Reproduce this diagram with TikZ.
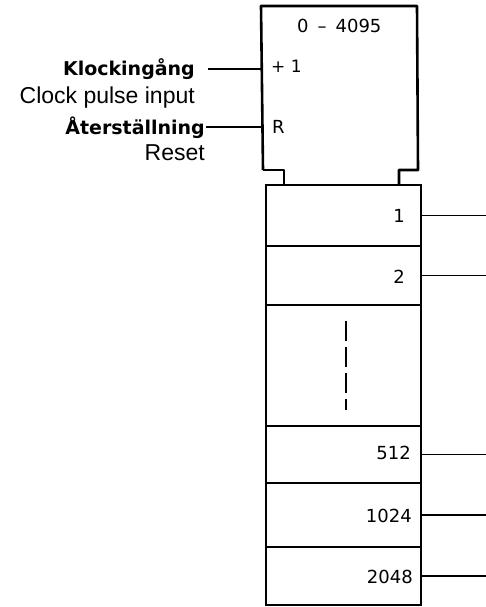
\documentclass[tikz,border=0pt]{standalone}
\usepackage{fontspec}
\setmainfont{Liberation Sans}
\newfontfamily\dinfont{DejaVu Sans}
\begin{document}
\begin{tikzpicture}[x=1pt,y=-1pt,
  thick box/.style={line width=2.6pt, line join=round},
  row/.style={draw, line width=2.6pt, minimum width=155pt, inner sep=0pt, outer sep=0pt},
  outline/.style={line width=1.6pt},
  num/.style={font=\dinfont\fontsize{18}{20}\selectfont, anchor=base east, inner sep=0pt},
  swe/.style={font=\dinfont\bfseries\fontsize{19}{22}\selectfont, anchor=base east, inner sep=0pt},
  eng/.style={font=\fontsize{23}{26}\selectfont, anchor=base east, inner sep=0pt}]
\useasboundingbox (0,0) rectangle (486,607);
% counter head
\node[minimum width=156pt, minimum height=164pt, inner sep=0pt, outer sep=0pt] (ctr) at (339,88) {};
\draw[thick box] (263,170) -- (ctr.north west) -- (ctr.north east) -- (418,170) -- (399,170) -- (399,185);
\draw[thick box] (263,170) -- (284,170) -- (284,185);
\node[num, anchor=base west] (range) at (297,33) {0\hspace{9pt}–\hspace{9pt}4095};
\node[num, anchor=base west, font=\dinfont\fontsize{17}{18}\selectfont] (plus) at (271,73) {+ 1};
\node[num, anchor=base west] (rin) at (272,133) {R};
% stack
\node[row, minimum height=61pt] (r1) at (343.5,215.5) {};
\node[row, minimum height=59pt] (r2) at (343.5,275.5) {};
\node[row, minimum height=121pt] (r3) at (343.5,365.5) {};
\node[row, minimum height=57pt] (r4) at (343.5,454.5) {};
\node[row, minimum height=64pt] (r5) at (343.5,515) {};
\node[row, minimum height=58pt] (r6) at (343.5,576) {};
\node[num] (l1) at (405,222) {1};
\node[num] (l2) at (405,283) {2};
\node[num] (l4) at (411,459) {512};
\node[num] (l5) at (412,522) {1024};
\node[num] (l6) at (413,583) {2048};
\draw[line width=1.5pt, dash pattern=on 20pt off 6pt] (346,321) -- (346,410);
% outputs
\foreach \r in {r1,r2,r4,r5,r6}{
  \coordinate (o\r) at (486,0 |- \r.east);
  \draw[outline] (\r.east) -- (o\r);
}
% inputs
\coordinate (kin) at (208,69);
\coordinate (ain) at (206,127);
\draw[outline] (kin) -- (kin -| ctr.west);
\draw[outline] (ain) -- (ain -| ctr.west);
\node[swe] (k) at (195,76) {Klockingång};
\node[eng] (ke) at (195,103) {Clock pulse input};
\node[swe] (a) at (205,134) {Återställning};
\node[eng] (ae) at (205,160) {Reset};
\end{tikzpicture}
\end{document}
